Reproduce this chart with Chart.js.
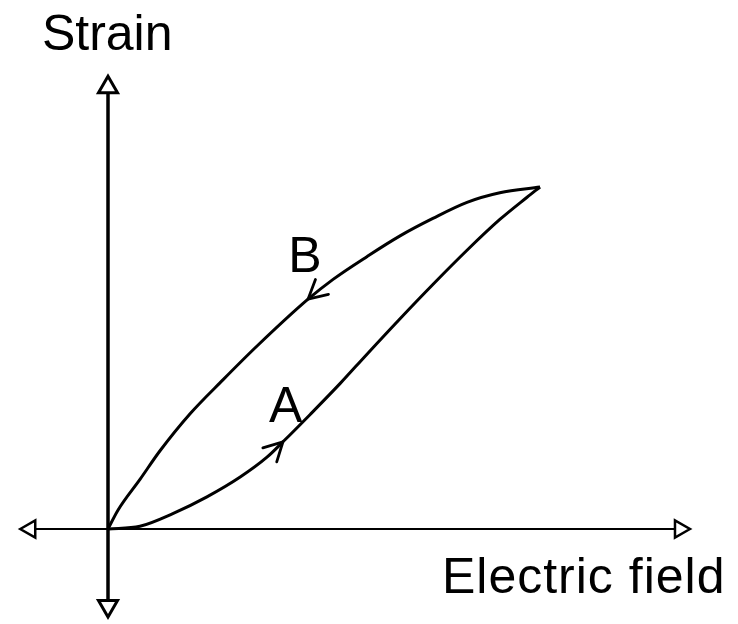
<!DOCTYPE html>
<html>
<head>
<meta charset="utf-8">
<script src="https://cdn.jsdelivr.net/npm/chart.js@4/dist/chart.umd.min.js"></script>
<style>
  html, body { margin: 0; padding: 0; background: #ffffff; }
  #wrap { width: 738px; height: 624px; position: relative; }
</style>
</head>
<body>
<div id="wrap"><canvas id="loopChart"></canvas></div>
<script>
// 1. DATA (field and strain normalised so the loop tip is at 1,1)
const fieldUp = [0, 0.074, 0.15, 0.229, 0.306, 0.368, 0.405, 0.468, 0.537, 0.6, 0.676, 0.752, 0.831, 0.907, 0.97, 1];
const strainUp = [0, 0.008, 0.045, 0.094, 0.152, 0.21, 0.255, 0.335, 0.425, 0.512, 0.615, 0.715, 0.815, 0.905, 0.97, 1];
const fieldDown = [1, 0.907, 0.831, 0.752, 0.676, 0.6, 0.521, 0.463, 0.345, 0.266, 0.19, 0.12, 0.074, 0.023, 0];
const strainDown = [1, 0.983, 0.955, 0.908, 0.857, 0.797, 0.73, 0.672, 0.535, 0.436, 0.337, 0.228, 0.145, 0.055, 0];

// axis extents (ends of the drawn axes)
const fieldAxis = [-0.18, 1.324];
const strainAxis = [-0.225, 1.292];

// where the direction arrows sit on each branch (point index)
const arrowIndex = [6, 7];

// branch labels and axis titles
const branchLabels = ["A", "B"];
const branchLabelX = [0.411, 0.456];
const branchLabelY = [0.313, 0.751];
const axisTitles = ["Strain", "Electric field"];
const axisTitleX = [-0.153, 0.773];
const axisTitleY = [1.4006, -0.187];

const toPoints = (xs, ys) => xs.map((v, i) => ({ x: v, y: ys[i] }));

// 2. PLUGIN: open arrowheads on the curves + text labels
const loopDecor = {
  id: "loopDecor",
  afterDatasetsDraw(chart) {
    const ctx = chart.ctx;
    const sx = chart.scales.x;
    const sy = chart.scales.y;

    // V arrowheads following the curve direction
    [0, 1].forEach((ds) => {
      const pts = chart.getDatasetMeta(ds).data;
      const i = arrowIndex[ds];
      const p = pts[i];
      const a = pts[i - 1];
      const b = pts[i + 1];
      let dx = b.x - a.x;
      let dy = b.y - a.y;
      const len = Math.hypot(dx, dy);
      dx /= len;
      dy /= len;
      const L = 21;
      const ang = (28 * Math.PI) / 180;
      ctx.save();
      ctx.strokeStyle = "#000";
      ctx.lineWidth = 2.8;
      ctx.lineCap = "round";
      ctx.beginPath();
      [ang, -ang].forEach((t) => {
        const rx = dx * Math.cos(t) - dy * Math.sin(t);
        const ry = dx * Math.sin(t) + dy * Math.cos(t);
        ctx.moveTo(p.x, p.y);
        ctx.lineTo(p.x - rx * L, p.y - ry * L);
      });
      ctx.stroke();
      ctx.restore();
    });

    // text
    ctx.save();
    ctx.fillStyle = "#000";
    ctx.font = '50px "Liberation Sans", Arial, sans-serif';
    ctx.textBaseline = "alphabetic";
    ctx.textAlign = "center";
    branchLabels.forEach((t, i) => {
      ctx.fillText(t, sx.getPixelForValue(branchLabelX[i]), sy.getPixelForValue(branchLabelY[i]));
    });
    ctx.textAlign = "left";
    axisTitles.forEach((t, i) => {
      ctx.letterSpacing = i === 1 ? "1px" : "0px";
      ctx.fillText(t, sx.getPixelForValue(axisTitleX[i]), sy.getPixelForValue(axisTitleY[i]));
    });
    ctx.restore();
  },
};

// 3. CHART
const axisPoint = {
  pointStyle: "triangle",
  pointRadius: 11,
  pointBorderWidth: 3,
  pointBackgroundColor: "#ffffff",
  pointBorderColor: "#000000",
};

const curveStyle = {
  showLine: true,
  borderColor: "#000",
  borderWidth: 3,
  cubicInterpolationMode: "monotone",
  pointRadius: 0,
};

new Chart(document.getElementById("loopChart"), {
  type: "scatter",
  data: {
    datasets: [
      { label: "A", data: toPoints(fieldUp, strainUp), ...curveStyle },
      { label: "B", data: toPoints(fieldDown, strainDown), ...curveStyle },
      {
        label: "Electric field axis",
        data: toPoints(fieldAxis, [0, 0]),
        showLine: true,
        borderColor: "#000",
        borderWidth: 2,
        ...axisPoint,
        pointBorderWidth: 2.5,
        pointRadius: 10,
        rotation: (c) => (c.dataIndex === 0 ? 270 : 90),
      },
      {
        label: "Strain axis",
        data: toPoints([0, 0], strainAxis),
        showLine: true,
        borderColor: "#000",
        borderWidth: 3.5,
        ...axisPoint,
        rotation: (c) => (c.dataIndex === 0 ? 180 : 0),
      },
    ],
  },
  options: {
    responsive: true,
    maintainAspectRatio: false,
    animation: false,
    layout: { padding: 0, autoPadding: false },
    plugins: {
      legend: { display: false },
      tooltip: { enabled: false },
    },
    scales: {
      x: { type: "linear", min: -0.25, max: 1.4583, display: false },
      y: { type: "linear", min: -0.2778, max: 1.5468, display: false },
    },
  },
  plugins: [loopDecor],
});
</script>
</body>
</html>
